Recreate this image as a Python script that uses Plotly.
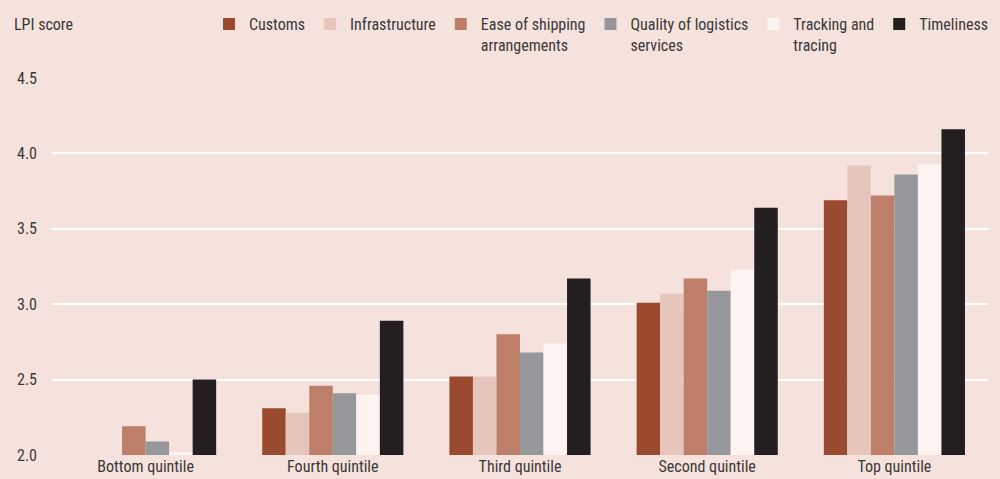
import plotly.graph_objects as go

categories = ["Bottom quintile", "Fourth quintile", "Third quintile", "Second quintile", "Top quintile"]
series_names = ["Customs", "Infrastructure", "Ease of shipping<br>arrangements",
                "Quality of logistics<br>services", "Tracking and<br>tracing", "Timeliness"]
customs = [1.95, 2.31, 2.52, 3.01, 3.69]
infrastructure = [1.97, 2.28, 2.52, 3.07, 3.92]
ease_shipping = [2.19, 2.46, 2.80, 3.17, 3.72]
quality_logistics = [2.09, 2.41, 2.68, 3.09, 3.86]
tracking_tracing = [2.02, 2.40, 2.74, 3.23, 3.93]
timeliness = [2.50, 2.89, 3.17, 3.64, 4.16]
y_ticks = [2.0, 2.5, 3.0, 3.5, 4.0, 4.5]

colors = ["#9a4a2e", "#e6c6bc", "#bd7f69", "#96979b", "#fdf3f1", "#231f20"]
all_values = [customs, infrastructure, ease_shipping, quality_logistics, tracking_tracing, timeliness]

FONT = "Liberation Sans Narrow, Roboto Condensed, Arial Narrow, Roboto, sans-serif"
TXT = "#3b3838"
BG = "#f5e2dd"

fig = go.Figure()
for name, vals, c in zip(series_names, all_values, colors):
    fig.add_trace(go.Bar(x=categories, y=vals, name=name, marker=dict(color=c, line=dict(width=0))))

fig.update_layout(
    width=1000, height=479,
    paper_bgcolor=BG, plot_bgcolor=BG,
    barmode="group", bargap=0.246, bargroupgap=0,
    margin=dict(l=52, r=12, t=78, b=24, autoexpand=False),
    font=dict(family=FONT, size=16, color=TXT),
    legend=dict(orientation="h", xref="container", x=0.993, xanchor="right",
                yref="container", y=0.985, yanchor="top",
                valign="top", bgcolor="rgba(0,0,0,0)", font=dict(size=16, color=TXT),
                traceorder="normal", tracegroupgap=0),
    showlegend=True,
    xaxis=dict(showgrid=False, showline=False, ticks="", automargin=False,
               tickfont=dict(size=16, color=TXT)),
    yaxis=dict(range=[2.0, 4.5], tickvals=y_ticks, tickformat=".1f", showgrid=True,
               gridcolor="#ffffff", gridwidth=2, zeroline=False, showline=False, automargin=False,
               ticks="", ticklabelstandoff=14, tickfont=dict(size=16, color=TXT)),
)
fig.add_annotation(text="LPI score", xref="paper", yref="paper", x=-40 / 936, y=1 + (78 - 24) / 377,
                   xanchor="left", yanchor="middle", showarrow=False, font=dict(size=16, color=TXT))

fig.write_html("out.html", config={"displayModeBar": False},
               post_script="document.body.style.margin='0';document.body.style.overflow='hidden';")
